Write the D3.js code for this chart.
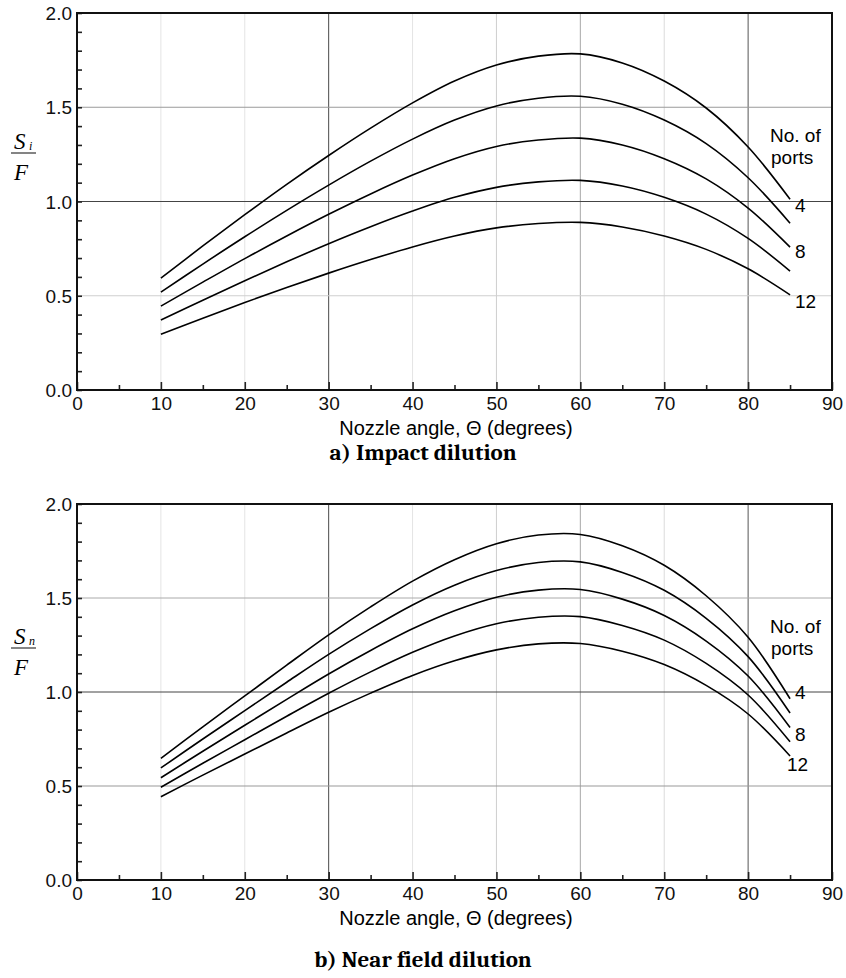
<!DOCTYPE html>
<html><head><meta charset="utf-8">
<script src="https://cdn.jsdelivr.net/npm/d3@7"></script>
<style>body{margin:0;background:#fff}svg{display:block}</style>
</head><body>
<svg id="c" width="846" height="978"></svg>
<script>
// ---- data ----
const angles = [10,15,20,25,30,35,40,45,50,55,60,65,70,75,80,85];
const xTickLabels = ["0","10","20","30","40","50","60","70","80","90"];
const yTickLabels = ["0.0","0.5","1.0","1.5","2.0"];
const portLabels = ["4","8","12"];

// a) Impact dilution  S_i/F  (curves from top to bottom)
const impact4  = [0.594,0.764,0.930,1.091,1.244,1.389,1.523,1.639,1.724,1.771,1.783,1.735,1.639,1.496,1.289,1.012];
const impact6  = [0.519,0.668,0.813,0.953,1.087,1.214,1.331,1.432,1.507,1.548,1.558,1.516,1.432,1.307,1.126,0.885];
const impact8  = [0.445,0.572,0.697,0.817,0.932,1.040,1.140,1.227,1.292,1.326,1.336,1.300,1.227,1.120,0.965,0.758];
const impact10 = [0.371,0.476,0.580,0.680,0.776,0.866,0.949,1.022,1.075,1.104,1.112,1.082,1.022,0.933,0.804,0.631];
const impact12 = [0.296,0.381,0.464,0.544,0.620,0.692,0.759,0.817,0.860,0.883,0.889,0.865,0.817,0.746,0.643,0.505];

// b) Near field dilution  S_n/F
const near4  = [0.647,0.815,0.979,1.143,1.304,1.453,1.590,1.704,1.789,1.835,1.838,1.778,1.674,1.512,1.291,0.964];
const near6  = [0.596,0.750,0.901,1.052,1.200,1.337,1.463,1.568,1.646,1.689,1.692,1.636,1.541,1.392,1.188,0.888];
const near8  = [0.544,0.685,0.823,0.961,1.096,1.221,1.336,1.432,1.504,1.542,1.545,1.494,1.407,1.271,1.085,0.811];
const near10 = [0.493,0.621,0.746,0.871,0.993,1.107,1.211,1.298,1.363,1.398,1.401,1.354,1.276,1.152,0.984,0.735];
const near12 = [0.443,0.558,0.670,0.782,0.892,0.994,1.088,1.166,1.224,1.256,1.258,1.217,1.146,1.035,0.883,0.660];

// ---- drawing ----
const svg = d3.select("#c");
const W = {left:77, right:832};
const gridStyle = {10:"#e4e4e4",20:"#e4e4e4",30:"#4a4a4a",40:"#e4e4e4",50:"#cfcfcf",60:"#a8a8a8",70:"#dcdcdc",80:"#555"};
const tf = "'Liberation Sans',Arial,sans-serif";

function panel(cfg){
  const x = d3.scaleLinear().domain([0,90]).range([W.left,W.right]);
  const y = d3.scaleLinear().domain([0,2]).range([cfg.bottom,cfg.top]);
  const g = svg.append("g");
  d3.range(10,90,10).forEach(v=>{
    g.append("line").attr("x1",x(v)).attr("x2",x(v)).attr("y1",y(0)).attr("y2",y(2))
      .attr("stroke",gridStyle[v]).attr("stroke-width",1);
  });
  [0.5,1.0,1.5].forEach(v=>{
    g.append("line").attr("x1",x(0)).attr("x2",x(90)).attr("y1",y(v)).attr("y2",y(v))
      .attr("stroke",cfg.hgrid[v]).attr("stroke-width",1);
  });
  const xAxisMinor = d3.axisBottom(x).tickValues(d3.range(5,90,10)).tickSize(-5).tickFormat("");
  const xAxisMajor = d3.axisBottom(x).tickValues(d3.range(0,91,10)).tickSize(-8)
      .tickFormat((d,i)=>xTickLabels[i]).tickPadding(7);
  const yAxis = d3.axisLeft(y).tickValues(d3.range(0,21).map(d=>d/10)).tickSize(-5)
      .tickFormat(d=>{const i=[0,0.5,1,1.5,2].findIndex(v=>Math.abs(v-d)<1e-6);return i>=0?yTickLabels[i]:"";})
      .tickPadding(5);
  const gx1 = g.append("g").attr("transform",`translate(0,${y(0)})`).call(xAxisMinor);
  const gx2 = g.append("g").attr("transform",`translate(0,${y(0)})`).call(xAxisMajor);
  const gy = g.append("g").attr("transform",`translate(${x(0)},0)`).call(yAxis);
  [gx1,gx2,gy].forEach(a=>{
    a.select(".domain").remove();
    a.selectAll(".tick line").attr("stroke","#222").attr("stroke-width",1.6);
    a.selectAll("text").attr("font-family",tf).attr("font-size",19).attr("fill","#111");
  });
  gy.selectAll(".tick text").attr("dy","0.35em");
  g.append("rect").attr("x",x(0)).attr("y",y(2)).attr("width",x(90)-x(0)).attr("height",y(0)-y(2))
    .attr("fill","none").attr("stroke","#111").attr("stroke-width",2);
  const line = d3.line().x((d,i)=>x(angles[i])).y(d=>y(d)).curve(d3.curveCatmullRom.alpha(0.5));
  cfg.series.forEach(s=>{
    g.append("path").attr("d",line(s)).attr("fill","none").attr("stroke","#000").attr("stroke-width",1.6);
  });
  g.append("text").attr("x",770).attr("y",cfg.leg[0]).text("No. of").attr("font-family",tf).attr("font-size",19);
  g.append("text").attr("x",771).attr("y",cfg.leg[1]).text("ports").attr("font-family",tf).attr("font-size",19);
  portLabels.forEach((p,i)=>{
    g.append("text").attr("x",cfg.portX[i]).attr("y",cfg.portY[i]).text(p).attr("font-family",tf).attr("font-size",19);
  });
  g.append("text").attr("x",456).attr("y",cfg.bottom+45).attr("text-anchor","middle")
    .attr("font-family",tf).attr("font-size",20).text("Nozzle angle, \u0398 (degrees)");
  g.append("text").attr("x",423).attr("y",cfg.bottom+cfg.capOff).attr("text-anchor","middle")
    .attr("font-family","Cambria,'Liberation Serif','DejaVu Serif',serif").attr("font-weight","bold")
    .attr("font-size",23).text(cfg.caption);
  const ly = cfg.fracY;
  const sf = "'Liberation Serif','Times New Roman',serif";
  g.append("text").attr("x",14).attr("y",ly-4).attr("font-family",sf).attr("font-style","italic").attr("font-size",23).text("S");
  g.append("text").attr("x",29).attr("y",ly-3).attr("font-family",sf).attr("font-style","italic").attr("font-size",12).text(cfg.sub);
  g.append("line").attr("x1",11).attr("x2",36).attr("y1",ly).attr("y2",ly).attr("stroke","#333").attr("stroke-width",1.2);
  g.append("text").attr("x",14).attr("y",ly+27).attr("font-family",sf).attr("font-style","italic").attr("font-size",23).text("F");
}

panel({top:13,bottom:390,series:[impact4,impact6,impact8,impact10,impact12],
  hgrid:{0.5:"#cfcfcf",1.0:"#444",1.5:"#9a9a9a"},
  leg:[142,164],portX:[795,795,795],portY:[212,258,308],
  caption:"a) Impact dilution",capOff:70,fracY:153,sub:"i"});
panel({top:504,bottom:880,series:[near4,near6,near8,near10,near12],
  hgrid:{0.5:"#999",1.0:"#444",1.5:"#aaa"},
  leg:[633,655],portX:[795,795,787],portY:[699,741,771],
  caption:"b) Near field dilution",capOff:87,fracY:648,sub:"n"});
</script>
</body></html>
